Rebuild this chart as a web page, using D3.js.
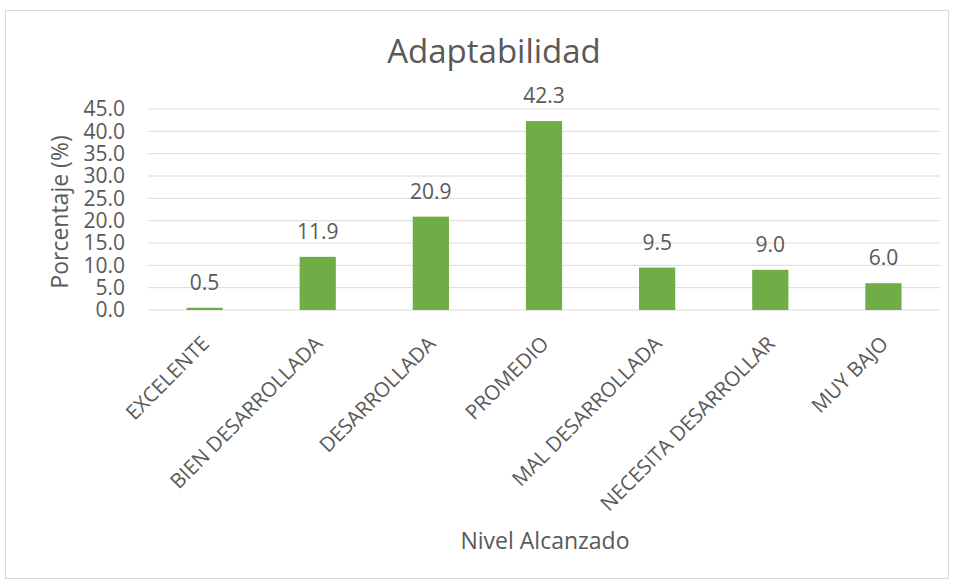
<!DOCTYPE html>
<html>
<head>
<meta charset="utf-8">
<script src="https://cdn.jsdelivr.net/npm/d3@7"></script>
<style>
  body { margin: 0; background: #fff; }
  text { font-family: 'Open Sans', sans-serif; fill: #595959; }
</style>
</head>
<body>
<svg id="chart"></svg>
<script>
const categories = ['EXCELENTE', 'BIEN DESARROLLADA', 'DESARROLLADA', 'PROMEDIO',
  'MAL DESARROLLADA', 'NECESITA DESARROLLAR', 'MUY BAJO'];
const values = [0.5, 11.9, 20.9, 42.3, 9.5, 9.0, 6.0];
const yTicks = [0, 5, 10, 15, 20, 25, 30, 35, 40, 45];

const W = 955, H = 584;
const margin = {top: 109, right: 15, bottom: 274, left: 148};
const width = W - margin.left - margin.right,
  height = H - margin.top - margin.bottom;

const svg = d3.select('#chart')
  .attr('width', W)
  .attr('height', H);

// chart border
svg.append('rect')
  .attr('x', 5.5).attr('y', 10.5)
  .attr('width', 943).attr('height', 568)
  .attr('fill', '#fff')
  .attr('stroke', '#d9d9d9');

const chart = svg.append('g')
  .attr('transform', `translate(${margin.left},${margin.top})`);

const x = d3.scaleBand()
  .domain(categories)
  .range([0, width])
  .paddingInner(0.68)
  .paddingOuter(0.34);

const y = d3.scaleLinear()
  .domain([0, 45])
  .range([height, 0]);

//gridlines
chart.selectAll('.grid')
  .data(yTicks)
  .enter().append('line')
  .attr('class', 'grid')
  .attr('x1', 0).attr('x2', width)
  .attr('y1', d => y(d)).attr('y2', d => y(d))
  .attr('stroke', '#d9d9d9')
  .attr('stroke-width', 1);

// y axis
const yAxis = chart.append('g')
  .call(d3.axisLeft(y).tickValues(yTicks).tickFormat(d3.format('.1f')).tickSize(0).tickPadding(23));
yAxis.select('.domain').remove();
yAxis.selectAll('text').style('font-size', '21px').attr('fill', '#595959');

// x axis
const xAxis = chart.append('g')
  .attr('transform', `translate(0,${height})`)
  .call(d3.axisBottom(x).tickSize(0));
xAxis.select('.domain').remove();
xAxis.selectAll('text')
  .style('font-size', '20.5px')
  .attr('fill', '#595959')
  .attr('text-anchor', 'end')
  .attr('dy', null)
  .attr('y', 0)
  .attr('transform', 'translate(6,35) rotate(-45)');

// bars
chart.selectAll('.bar')
  .data(values)
  .enter().append('rect')
  .attr('class', 'bar')
  .attr('x', (d, i) => x(categories[i]))
  .attr('y', d => y(d))
  .attr('width', x.bandwidth())
  .attr('height', d => height - y(d))
  .attr('fill', '#70ad47');

// data labels
chart.selectAll('.lbl')
  .data(values)
  .enter().append('text')
  .attr('class', 'lbl')
  .attr('x', (d, i) => x(categories[i]) + x.bandwidth() / 2)
  .attr('y', d => y(d) - 18)
  .attr('text-anchor', 'middle')
  .style('font-size', '21px')
  .text(d => d.toFixed(1));

//Add title
svg.append('text')
  .attr('x', 494).attr('y', 63)
  .attr('text-anchor', 'middle')
  .style('font-size', '33px')
  .text('Adaptabilidad');

svg.append('text')
  .attr('transform', 'translate(68,212) rotate(-90)')
  .attr('text-anchor', 'middle')
  .style('font-size', '23px')
  .text('Porcentaje (%)');

svg.append('text')
  .attr('x', 545).attr('y', 549)
  .attr('text-anchor', 'middle')
  .style('font-size', '23px')
  .text('Nivel Alcanzado');
</script>
</body>
</html>
